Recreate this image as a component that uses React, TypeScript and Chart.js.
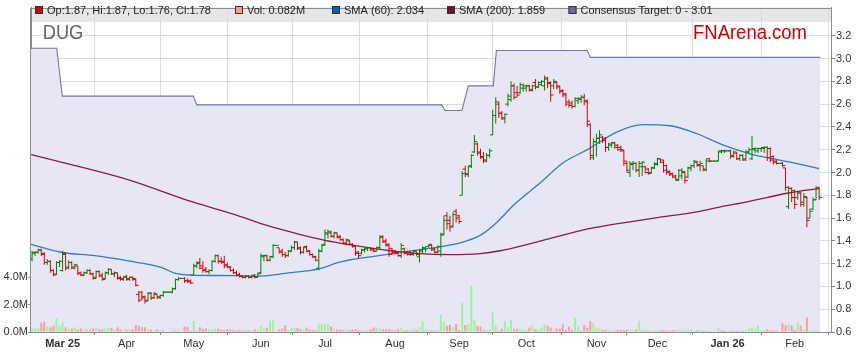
import { useEffect, useRef } from "react";
import { Chart, registerables } from "chart.js";

Chart.register(...registerables);

const FONT = '"Liberation Sans", Arial, Helvetica, sans-serif';

// ---- X axis: one slot per weekday, Feb 17 2025 .. Feb 12 2026 ----
const monthTickIdx = [10, 31, 53, 75, 96, 119, 140, 162, 185, 205, 228, 250];
const monthLabels = ["Mar 25", "Apr", "May", "Jun", "Jul", "Aug", "Sep", "Oct", "Nov", "Dec", "Jan 26", "Feb"];
const boldLabels = ["Mar 25", "Jan 26"];
const priceTicks = [0.6, 0.8, 1.0, 1.2, 1.4, 1.6, 1.8, 2.0, 2.2, 2.4, 2.6, 2.8, 3.0, 3.2];
const volumeTicks = [0, 2, 4];

// ---- OHLC (A$) ----
const opens = [
  1.24,1.29,1.30,1.32,1.29,1.21,1.22,1.14,1.11,1.21,
  1.14,1.29,1.17,1.21,1.17,1.18,1.12,1.10,1.12,1.14,
  1.11,1.08,1.13,1.10,1.07,1.12,1.15,1.11,1.12,1.08,
  1.07,1.09,1.07,1.08,1.07,0.93,0.95,0.91,0.88,0.94,
  0.90,0.93,0.90,0.92,0.95,0.95,0.95,0.98,1.06,1.07,
  1.07,1.05,1.05,1.10,1.18,1.21,1.18,1.15,1.13,1.14,
  1.22,1.27,1.22,1.22,1.19,1.17,1.14,1.12,1.10,1.09,
  1.08,1.09,1.08,1.10,1.08,1.12,1.26,1.27,1.23,1.26,
  1.36,1.34,1.31,1.28,1.27,1.31,1.34,1.39,1.34,1.30,
  1.35,1.31,1.28,1.26,1.16,1.31,1.37,1.46,1.47,1.44,
  1.47,1.44,1.41,1.38,1.40,1.37,1.35,1.30,1.29,1.32,
  1.33,1.34,1.33,1.31,1.34,1.44,1.40,1.37,1.33,1.31,
  1.30,1.27,1.33,1.30,1.30,1.28,1.31,1.26,1.31,1.33,
  1.35,1.37,1.33,1.30,1.31,1.46,1.62,1.58,1.53,1.66,
  1.62,1.80,2.03,1.99,2.06,2.18,2.25,2.18,2.14,2.11,
  2.15,2.33,2.50,2.60,2.52,2.47,2.60,2.64,2.76,2.70,
  2.70,2.74,2.74,2.76,2.73,2.79,2.75,2.77,2.76,2.82,
  2.79,2.76,2.79,2.76,2.72,2.69,2.62,2.61,2.58,2.63,
  2.64,2.66,2.63,2.42,2.13,2.27,2.30,2.31,2.30,2.22,
  2.24,2.26,2.24,2.22,2.19,2.08,2.00,2.07,2.08,2.02,
  2.05,2.05,2.03,2.00,2.04,2.07,2.12,2.11,2.06,2.01,
  1.99,1.97,1.93,1.97,2.00,1.96,2.04,2.06,2.09,2.07,
  2.06,2.03,2.12,2.10,2.10,2.10,2.19,2.19,2.19,2.19,
  2.15,2.17,2.12,2.15,2.12,2.18,2.12,2.20,2.19,2.21,
  2.21,2.22,2.21,2.14,2.10,2.08,2.08,2.04,1.70,1.86,
  1.84,1.78,1.82,1.72,1.78,1.60,1.68,1.76,1.87,
];
const highs = [
  1.31,1.31,1.33,1.33,1.30,1.24,1.23,1.15,1.22,1.23,
  1.31,1.30,1.23,1.22,1.20,1.18,1.13,1.13,1.15,1.15,
  1.12,1.14,1.14,1.12,1.13,1.16,1.15,1.13,1.12,1.09,
  1.09,1.10,1.09,1.09,1.07,0.96,0.96,0.92,0.95,0.95,
  0.95,0.93,0.93,0.96,0.95,0.95,0.99,1.07,1.08,1.07,
  1.08,1.07,1.06,1.20,1.22,1.25,1.22,1.17,1.15,1.23,
  1.28,1.28,1.26,1.27,1.21,1.18,1.16,1.14,1.12,1.10,
  1.10,1.10,1.10,1.11,1.12,1.29,1.28,1.28,1.27,1.37,
  1.36,1.34,1.33,1.30,1.32,1.36,1.40,1.39,1.35,1.35,
  1.36,1.32,1.29,1.27,1.33,1.37,1.50,1.50,1.49,1.48,
  1.47,1.45,1.42,1.42,1.41,1.38,1.36,1.31,1.33,1.34,
  1.34,1.34,1.34,1.35,1.45,1.45,1.42,1.38,1.34,1.32,
  1.31,1.38,1.34,1.31,1.31,1.32,1.31,1.33,1.35,1.35,
  1.37,1.37,1.34,1.36,1.47,1.62,1.65,1.62,1.65,1.68,
  1.63,2.01,2.06,2.06,2.16,2.33,2.26,2.21,2.18,2.17,
  2.21,2.55,2.66,2.62,2.54,2.52,2.69,2.80,2.78,2.76,
  2.79,2.78,2.77,2.77,2.77,2.82,2.80,2.81,2.85,2.84,
  2.80,2.82,2.80,2.76,2.73,2.70,2.64,2.63,2.66,2.66,
  2.68,2.69,2.64,2.43,2.30,2.34,2.37,2.32,2.31,2.26,
  2.27,2.27,2.25,2.24,2.20,2.10,2.10,2.10,2.09,2.10,
  2.10,2.06,2.04,2.05,2.09,2.13,2.12,2.11,2.07,2.02,
  2.00,1.98,2.03,2.04,2.01,2.05,2.07,2.11,2.10,2.10,
  2.06,2.12,2.13,2.10,2.10,2.19,2.20,2.20,2.19,2.20,
  2.19,2.18,2.16,2.16,2.20,2.22,2.32,2.22,2.22,2.22,
  2.23,2.23,2.22,2.15,2.11,2.08,2.09,2.04,1.88,1.87,
  1.85,1.84,1.83,1.82,1.79,1.68,1.78,1.88,1.87,
];
const lows = [
  1.22,1.27,1.29,1.27,1.19,1.19,1.12,1.09,1.10,1.17,
  1.13,1.14,1.15,1.15,1.15,1.10,1.09,1.09,1.11,1.10,
  1.06,1.07,1.08,1.05,1.06,1.10,1.10,1.08,1.06,1.05,
  1.05,1.05,1.05,1.05,1.00,0.86,0.88,0.85,0.87,0.88,
  0.89,0.89,0.89,0.91,0.95,0.95,0.94,0.97,1.05,1.07,
  1.03,1.03,1.02,1.10,1.16,1.15,1.12,1.12,1.11,1.13,
  1.21,1.20,1.20,1.16,1.16,1.13,1.11,1.09,1.08,1.07,
  1.07,1.07,1.07,1.07,1.08,1.11,1.22,1.22,1.22,1.25,
  1.36,1.29,1.26,1.25,1.26,1.30,1.32,1.32,1.28,1.29,
  1.30,1.27,1.25,1.22,1.14,1.30,1.36,1.42,1.43,1.42,
  1.42,1.40,1.37,1.36,1.36,1.34,1.27,1.25,1.28,1.30,
  1.31,1.31,1.30,1.31,1.33,1.38,1.35,1.26,1.28,1.28,
  1.26,1.25,1.28,1.27,1.27,1.27,1.27,1.21,1.29,1.30,
  1.34,1.31,1.29,1.29,1.26,1.45,1.50,1.48,1.52,1.56,
  1.55,1.80,1.96,1.96,2.04,2.17,2.15,2.12,2.08,2.09,
  2.13,2.33,2.43,2.48,2.46,2.43,2.58,2.62,2.64,2.66,
  2.69,2.71,2.71,2.71,2.71,2.73,2.74,2.76,2.72,2.74,
  2.62,2.73,2.73,2.69,2.66,2.58,2.57,2.56,2.57,2.60,
  2.61,2.59,2.40,2.11,2.11,2.14,2.25,2.26,2.18,2.19,
  2.22,2.21,2.19,2.18,2.06,2.00,1.96,2.02,2.00,1.96,
  1.97,1.99,1.98,1.99,2.03,2.06,2.08,2.00,1.98,1.97,
  1.95,1.93,1.93,1.94,1.90,1.95,2.01,2.04,2.05,2.01,
  2.01,2.01,2.09,2.10,2.10,2.10,2.17,2.17,2.19,2.12,
  2.13,2.11,2.10,2.10,2.10,2.16,2.11,2.17,2.17,2.18,
  2.17,2.10,2.09,2.07,2.07,2.08,2.05,1.84,1.68,1.74,
  1.68,1.76,1.70,1.70,1.52,1.60,1.67,1.76,1.76,
];
const closes = [
  1.30,1.30,1.32,1.28,1.21,1.22,1.14,1.10,1.21,1.22,
  1.28,1.16,1.21,1.16,1.19,1.11,1.10,1.12,1.14,1.11,
  1.07,1.13,1.09,1.06,1.12,1.15,1.11,1.12,1.07,1.06,
  1.08,1.06,1.08,1.06,1.01,0.88,0.90,0.87,0.94,0.90,
  0.94,0.91,0.92,0.95,0.95,0.95,0.98,1.06,1.07,1.07,
  1.05,1.04,1.03,1.18,1.20,1.16,1.14,1.13,1.14,1.22,
  1.27,1.22,1.21,1.18,1.17,1.14,1.12,1.10,1.09,1.08,
  1.09,1.08,1.09,1.08,1.11,1.27,1.27,1.23,1.26,1.36,
  1.36,1.30,1.28,1.27,1.31,1.34,1.39,1.33,1.30,1.34,
  1.31,1.28,1.26,1.23,1.31,1.36,1.47,1.48,1.44,1.47,
  1.43,1.41,1.38,1.41,1.37,1.35,1.29,1.27,1.32,1.33,
  1.34,1.32,1.31,1.34,1.43,1.39,1.36,1.28,1.30,1.29,
  1.27,1.36,1.29,1.28,1.28,1.31,1.28,1.32,1.34,1.35,
  1.36,1.32,1.30,1.35,1.45,1.58,1.55,1.52,1.63,1.60,
  1.57,1.99,1.98,2.05,2.15,2.27,2.17,2.13,2.10,2.15,
  2.19,2.50,2.62,2.52,2.48,2.51,2.67,2.76,2.66,2.68,
  2.77,2.76,2.76,2.72,2.76,2.75,2.79,2.80,2.83,2.78,
  2.68,2.80,2.75,2.71,2.68,2.60,2.59,2.58,2.65,2.65,
  2.66,2.62,2.45,2.15,2.27,2.30,2.33,2.28,2.22,2.25,
  2.26,2.22,2.20,2.20,2.10,2.02,2.08,2.08,2.02,2.08,
  2.09,2.00,1.99,2.04,2.08,2.12,2.09,2.02,2.00,1.98,
  1.96,1.94,2.02,2.01,1.93,2.04,2.06,2.10,2.06,2.08,
  2.02,2.10,2.10,2.10,2.10,2.18,2.19,2.19,2.19,2.14,
  2.18,2.12,2.15,2.11,2.18,2.20,2.21,2.21,2.21,2.22,
  2.22,2.13,2.11,2.09,2.08,2.08,2.06,1.87,1.86,1.78,
  1.72,1.82,1.74,1.79,1.58,1.66,1.76,1.86,1.78,
];
// ---- Volume (millions of shares) ----
const volumes = [
  0.28,0.28,0.33,0.68,0.75,0.40,0.35,0.45,1.00,0.47,
  0.70,0.35,0.28,0.26,0.35,0.20,0.26,0.16,0.20,0.16,
  0.23,0.30,0.20,0.20,0.26,0.33,0.30,0.20,0.35,0.20,
  0.16,0.16,0.20,0.20,0.52,0.45,0.35,0.35,0.20,0.16,
  0.12,0.20,0.10,0.15,0,0,0.10,0.15,0.12,0,
  0.40,0.36,0.10,0.82,0.12,0.35,0.20,0.25,0.18,0.22,
  0.30,0.25,0.18,0.15,0.22,0.18,0.15,0.12,0.16,0.10,
  0.18,0.12,0.15,0.20,0.15,0.47,0.25,0.30,0.82,0.87,
  0,0.20,0.25,0.52,0.15,0.30,0.30,0.30,0.20,0.15,
  0.33,0.20,0.15,0.12,0.56,0.56,0.56,0.56,0.40,0.25,
  0.20,0.18,0.15,0.20,0.15,0.18,0.20,0.15,0.12,0.10,
  0.15,0.20,0.33,0.33,0.25,0.20,0.20,0.18,0.15,0.12,
  0.20,0.33,0.15,0.12,0.10,0.20,0.15,0.33,0.82,0.20,
  0.15,0.12,0.10,0.15,1.27,0.75,0.45,0.52,0.33,0.59,
  0.16,2.16,0.52,0.59,3.41,0.87,0.45,0.38,0.16,0.16,
  0.20,1.50,0.52,0.10,0.23,0.80,0.33,0.87,0.23,0.23,
  0.20,0.20,0.12,0.33,0.52,0.20,0.20,0.33,0.56,0.45,
  0.33,0.15,0.23,0.23,0.56,0.15,0.40,0.15,1.06,0.40,
  0.15,0.52,0.33,0.80,0.64,0.33,0.23,0.16,0.16,0.16,
  0.10,0.10,0.16,0.15,0.15,0.16,0.16,0.15,0.20,0.80,
  0.20,0.12,0.10,0.10,0.15,0.15,0.12,0.15,0.12,0.10,
  0.15,0.12,0.15,0.20,0.10,0.15,0.18,0.10,0.12,0.15,
  0.10,0.12,0.08,0,0,0.33,0.10,0.08,0,0.10,
  0.10,0.08,0.10,0.10,0.12,0.28,0.33,0.20,0.47,0.10,
  0.08,0.20,0.15,0.12,0.10,0,0.64,0.47,0.56,0.47,
  0.16,0.70,0.45,0.20,1.06,0.10,0.12,0.16,0.082,
];

// ---- Moving averages (read at sample points, weekday index) ----
const sma60Idx = [-0.35, 9.5, 20.6, 31.5, 42.3, 47, 52, 66, 73, 84, 94, 100.5, 104, 112, 123, 134, 140, 147, 152.5, 157.7, 166.6, 174, 182, 191.8, 200.3, 209.2, 218, 226.6, 235.4, 244.3, 248.5, 258];
const sma60Vals = [1.37, 1.30, 1.27, 1.224, 1.167, 1.115, 1.10, 1.095, 1.089, 1.118, 1.155, 1.21, 1.232, 1.264, 1.307, 1.35, 1.38, 1.45, 1.566, 1.71, 1.91, 2.084, 2.20, 2.357, 2.42, 2.41, 2.34, 2.24, 2.164, 2.113, 2.09, 2.034];
const sma200Idx = [-0.35, 31.1, 52.9, 66, 77, 88, 96, 104, 117.4, 127.2, 137, 146.9, 153.4, 164, 174, 183, 204, 218, 226, 234, 248, 258];
const sma200Vals = [2.156, 1.94, 1.739, 1.635, 1.535, 1.455, 1.405, 1.367, 1.313, 1.287, 1.279, 1.288, 1.313, 1.38, 1.45, 1.509, 1.60, 1.655, 1.70, 1.74, 1.82, 1.859];

// ---- Consensus target ----
const consIdx = [-0.35, 8.1, 9.9, 52.9, 54, 134.3, 135.4, 140.9, 143, 151.2, 152.2, 182, 183, 258.4];
const consVals = [3.09, 3.09, 2.67, 2.67, 2.593, 2.593, 2.544, 2.544, 2.76, 2.76, 3.07, 3.07, 3.01, 3.01];

const legendTexts = [
  "Op:1.87, Hi:1.87, Lo:1.76, Cl:1.78",
  "Vol: 0.082M",
  "SMA (60): 2.034",
  "SMA (200): 1.859",
  "Consensus Target: 0 - 3.01",
];
const legendColors = ["#cc0000", "#ff9999", "#0b5fa5", "#7a0c2e", "#6a6a9c"];
const legendX = [35, 235, 332, 447, 568.5];

const UP = "#008000";
const DOWN = "#dd0000";

const decorPlugin = {
  id: "decor",
  beforeDraw(chart: any) {
    const { ctx, chartArea: a } = chart;
    ctx.save();
    ctx.fillStyle = "#e6e6e6";
    ctx.fillRect(a.left, a.top, a.right - a.left, 14.5);
    ctx.restore();
  },
  afterDraw(chart: any) {
    const { ctx, chartArea: a } = chart;
    ctx.save();
    ctx.strokeStyle = "#8c8c8c";
    ctx.lineWidth = 1;
    ctx.beginPath();
    ctx.moveTo(Math.round(a.left) - 0.5, Math.round(a.top) + 0.5);
    ctx.lineTo(Math.round(a.right) + 0.5, Math.round(a.top) + 0.5);
    ctx.moveTo(Math.round(a.left) - 0.5, Math.round(a.top));
    ctx.lineTo(Math.round(a.left) - 0.5, Math.round(a.bottom) + 1);
    ctx.moveTo(Math.round(a.right) + 0.5, Math.round(a.top));
    ctx.lineTo(Math.round(a.right) + 0.5, Math.round(a.bottom) + 1);
    ctx.moveTo(Math.round(a.left) - 1, Math.round(a.bottom) + 0.5);
    ctx.lineTo(Math.round(a.right) + 1, Math.round(a.bottom) + 0.5);
    ctx.stroke();

    ctx.font = `11px ${FONT}`;
    ctx.textBaseline = "alphabetic";
    ctx.textAlign = "left";
    legendTexts.forEach((t, k) => {
      const x = legendX[k];
      ctx.fillStyle = legendColors[k];
      ctx.fillRect(x, 6, 8, 8);
      ctx.strokeStyle = "#333";
      ctx.strokeRect(x + 0.5, 6.5, 7, 7);
      ctx.fillStyle = "#222";
      ctx.fillText(t, x + 12, 14);
    });

    const drawFit = (text: string, font: string, color: string, x: number, y: number, w: number) => {
      ctx.font = font;
      const m = ctx.measureText(text).width;
      ctx.save();
      ctx.translate(x, y);
      ctx.scale(w / m, 1);
      ctx.fillStyle = color;
      ctx.fillText(text, 0, 0);
      ctx.restore();
    };
    drawFit("DUG", `20px ${FONT}`, "#666666", 42.7, 39, 40.6);
    drawFit("FNArena.com", `21px ${FONT}`, "#d00000", 693, 38.5, 114);
    ctx.restore();
  },
};

export default function App() {
  const ref = useRef<HTMLCanvasElement>(null);

  useEffect(() => {
    document.body.style.margin = "0";
    Chart.defaults.font.family = FONT;
    const idx = closes.map((_, i) => i);
    const barColors = idx.map((i) => (closes[i] >= opens[i] ? UP : DOWN));
    const volColors = idx.map((i) =>
      closes[i] > opens[i] ? "#9cf59c" : closes[i] < opens[i] ? "#ff9c9c" : "#888888"
    );

    const chart = new Chart(ref.current as HTMLCanvasElement, {
      type: "bar",
      data: {
        datasets: [
          {
            type: "line",
            label: "Consensus",
            data: consIdx.map((x, k) => ({ x, y: consVals[k] })),
            yAxisID: "y",
            borderColor: "#7676a8",
            borderWidth: 1.1,
            backgroundColor: "#e6e6f5",
            fill: "start",
            pointRadius: 0,
            tension: 0,
            order: 10,
          } as any,
          {
            type: "bar",
            label: "Vol",
            data: idx.map((i) => ({ x: i, y: volumes[i] })),
            yAxisID: "yv",
            backgroundColor: volColors,
            barThickness: 2,
            inflateAmount: 0,
            grouped: false,
            order: 9,
          } as any,
          {
            type: "line",
            label: "SMA (200)",
            data: sma200Idx.map((x, k) => ({ x, y: sma200Vals[k] })),
            yAxisID: "y",
            borderColor: "#8c1c42",
            borderWidth: 1.3,
            pointRadius: 0,
            cubicInterpolationMode: "monotone",
            fill: false,
            order: 5,
          } as any,
          {
            type: "line",
            label: "SMA (60)",
            data: sma60Idx.map((x, k) => ({ x, y: sma60Vals[k] })),
            yAxisID: "y",
            borderColor: "#2c7fc0",
            borderWidth: 1.3,
            pointRadius: 0,
            cubicInterpolationMode: "monotone",
            fill: false,
            order: 4,
          } as any,
          {
            type: "bar",
            label: "HL",
            data: idx.map((i) => ({ x: i, y: [lows[i], highs[i]] })),
            yAxisID: "y",
            backgroundColor: barColors,
            barThickness: 1,
            inflateAmount: 0,
            grouped: false,
            order: 3,
          } as any,
          {
            type: "scatter",
            label: "Open",
            data: idx.map((i) => ({ x: i - 0.45, y: opens[i] })),
            yAxisID: "y",
            pointStyle: "line",
            pointRadius: 1.4,
            pointBorderWidth: 1,
            pointBorderColor: barColors,
            pointBackgroundColor: barColors,
            showLine: false,
            order: 2,
          } as any,
          {
            type: "scatter",
            label: "Close",
            data: idx.map((i) => ({ x: i + 0.45, y: closes[i] })),
            yAxisID: "y",
            pointStyle: "line",
            pointRadius: 1.4,
            pointBorderWidth: 1,
            pointBorderColor: barColors,
            pointBackgroundColor: barColors,
            showLine: false,
            order: 1,
          } as any,
        ],
      },
      options: {
        responsive: false,
        devicePixelRatio: 1,
        animation: false,
        events: [],
        layout: { padding: { top: 2, left: 0, right: 0, bottom: 0 } },
        plugins: { legend: { display: false }, tooltip: { enabled: false } },
        scales: {
          x: {
            type: "linear",
            position: "bottom",
            min: -0.35,
            max: 261.9,
            offset: false,
            afterBuildTicks: (s: any) => {
              s.ticks = monthTickIdx.map((v) => ({ value: v }));
            },
            afterFit: (s: any) => {
              s.height = 31;
            },
            ticks: {
              autoSkip: false,
              maxRotation: 0,
              padding: 2,
              color: "#333",
              font: (c: any) => {
                const lbl = monthLabels[monthTickIdx.indexOf(c.tick ? c.tick.value : -1)];
                return { family: FONT, size: 11, weight: boldLabels.includes(lbl) ? "bold" : "normal" };
              },
              callback: (v: any) => monthLabels[monthTickIdx.indexOf(Number(v))] ?? "",
            },
            grid: { color: "#dcdcdc", tickColor: "#888", tickLength: 3 },
            border: { color: "#888" },
          } as any,
          y: {
            type: "linear",
            position: "right",
            min: 0.6,
            max: 3.447,
            afterBuildTicks: (s: any) => {
              s.ticks = priceTicks.map((v) => ({ value: v }));
            },
            afterFit: (s: any) => {
              s.width = 28;
            },
            ticks: {
              padding: 1,
              color: "#333",
              font: { family: FONT, size: 11 },
              callback: (v: any) => Number(v).toFixed(1),
            },
            grid: { color: "#dcdcdc", tickColor: "#888", tickLength: 4 },
            border: { color: "#888" },
          } as any,
          yv: {
            type: "linear",
            position: "left",
            min: 0,
            max: 23.74,
            afterBuildTicks: (s: any) => {
              s.ticks = volumeTicks.map((v) => ({ value: v }));
            },
            afterFit: (s: any) => {
              s.width = 31;
            },
            ticks: {
              padding: 0,
              color: "#333",
              font: { family: FONT, size: 11 },
              callback: (v: any) => Number(v).toFixed(1) + "M",
            },
            grid: { drawOnChartArea: false, tickColor: "#888", tickLength: 3 },
            border: { color: "#888" },
          } as any,
        },
      } as any,
      plugins: [decorPlugin],
    });
    return () => chart.destroy();
  }, []);

  return (
    <div style={{ width: 859, height: 363 }}>
      <canvas ref={ref} width={859} height={363} style={{ display: "block", width: 859, height: 363 }} />
    </div>
  );
}
